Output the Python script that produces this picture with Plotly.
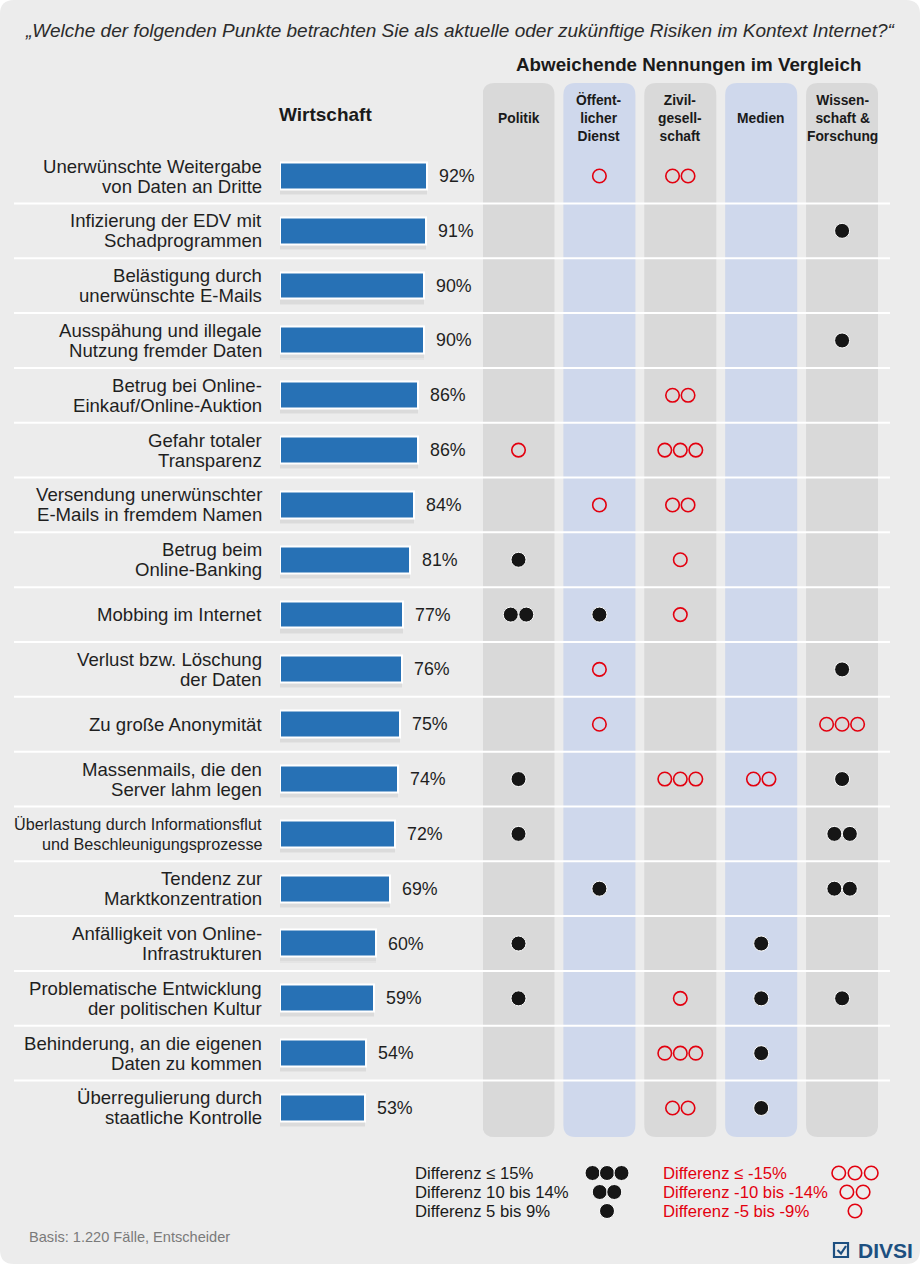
import plotly.graph_objects as go

W, H = 920, 1264

title = "„Welche der folgenden Punkte betrachten Sie als aktuelle oder zukünftige Risiken im Kontext Internet?“"

risks = [
    "Unerwünschte Weitergabe<br>von Daten an Dritte",
    "Infizierung der EDV mit<br>Schadprogrammen",
    "Belästigung durch<br>unerwünschte E-Mails",
    "Ausspähung und illegale<br>Nutzung fremder Daten",
    "Betrug bei Online-<br>Einkauf/Online-Auktion",
    "Gefahr totaler<br>Transparenz",
    "Versendung unerwünschter<br>E-Mails in fremdem Namen",
    "Betrug beim<br>Online-Banking",
    "Mobbing im Internet",
    "Verlust bzw. Löschung<br>der Daten",
    "Zu große Anonymität",
    "Massenmails, die den<br>Server lahm legen",
    "Überlastung durch Informationsflut<br>und Beschleunigungsprozesse",
    "Tendenz zur<br>Marktkonzentration",
    "Anfälligkeit von Online-<br>Infrastrukturen",
    "Problematische Entwicklung<br>der politischen Kultur",
    "Behinderung, an die eigenen<br>Daten zu kommen",
    "Überregulierung durch<br>staatliche Kontrolle",
]
wirtschaft = [92, 91, 90, 90, 86, 86, 84, 81, 77, 76, 75, 74, 72, 69, 60, 59, 54, 53]

groups = ["Politik", "Öffent-<br>licher<br>Dienst", "Zivil-<br>gesell-<br>schaft", "Medien",
          "Wissen-<br>schaft &<br>Forschung"]
# +n = n black dots (higher), -n = n red circles (lower)
politik = [0, 0, 0, 0, 0, -1, 0, 1, 2, 0, 0, 1, 1, 0, 1, 1, 0, 0]
oeffentlich = [-1, 0, 0, 0, 0, 0, -1, 0, 1, -1, -1, 0, 0, 1, 0, 0, 0, 0]
zivil = [-2, 0, 0, 0, -2, -3, -2, -1, -1, 0, 0, -3, 0, 0, 0, -1, -3, -2]
medien = [0, 0, 0, 0, 0, 0, 0, 0, 0, 0, 0, -2, 0, 0, 1, 1, 1, 1]
wissenschaft = [0, 1, 0, 1, 0, 0, 0, 0, 0, 1, -3, 1, 2, 2, 0, 1, 0, 0]

legend_black = ["Differenz ≤ 15%", "Differenz 10 bis 14%", "Differenz 5 bis 9%"]
legend_red = ["Differenz ≤ -15%", "Differenz -10 bis -14%", "Differenz -5 bis -9%"]
legend_counts = [3, 2, 1]

FONT = "Liberation Sans, Arial, sans-serif"
BLUE = "#2771b5"
RED = "#e3000f"


def px(x):
    return x / W


def py(y):
    return 1 - y / H


n = len(risks)
rows = list(range(n))
row_top, row_bot = 148.6, 1135.4
col_pitch = 80.9

fig = go.Figure()

# soft bar shadow + bars
fig.add_trace(go.Bar(x=wirtschaft, y=rows, orientation="h", width=0.6, offset=-0.26,
                     marker=dict(color="rgba(0,0,0,0.03)", line=dict(width=0)),
                     hoverinfo="skip", showlegend=False))
fig.add_trace(go.Bar(x=wirtschaft, y=rows, orientation="h", width=0.54, offset=-0.22,
                     marker=dict(color="rgba(0,0,0,0.04)", line=dict(width=0)),
                     hoverinfo="skip", showlegend=False))
fig.add_trace(go.Bar(x=wirtschaft, y=rows, orientation="h", width=0.49,
                     marker=dict(color=BLUE, line=dict(color="white", width=2)),
                     showlegend=False))

# dot matrix
cols = [politik, oeffentlich, zivil, medien, wissenschaft]
step = 15.5 / col_pitch
bx, by, rx, ry = [], [], [], []
for c, vals in enumerate(cols):
    for r, v in enumerate(vals):
        k = abs(v)
        for j in range(k):
            xx = c + (j - (k - 1) / 2) * step
            if v > 0:
                bx.append(xx); by.append(r)
            else:
                rx.append(xx); ry.append(r)
fig.add_trace(go.Scatter(x=bx, y=by, xaxis="x2", yaxis="y", mode="markers",
                         marker=dict(size=15, color="#161616", line=dict(color="white", width=1)),
                         showlegend=False, cliponaxis=False))
fig.add_trace(go.Scatter(x=rx, y=ry, xaxis="x2", yaxis="y", mode="markers",
                         marker=dict(size=13.5, symbol="circle-open", color=RED, line=dict(width=1.6)),
                         showlegend=False, cliponaxis=False))

# legend markers
lstep = 14.5 / 248
lbx, lby, lrx, lry = [], [], [], []
for r, k in enumerate(legend_counts):
    for j in range(k):
        off = (j - (k - 1) / 2) * lstep
        lbx.append(0 + off); lby.append(r)
        lrx.append(1 + off * 1.12); lry.append(r)
fig.add_trace(go.Scatter(x=lbx, y=lby, xaxis="x3", yaxis="y3", mode="markers",
                         marker=dict(size=15, color="#161616", line=dict(color="white", width=1)),
                         showlegend=False, cliponaxis=False))
fig.add_trace(go.Scatter(x=lrx, y=lry, xaxis="x3", yaxis="y3", mode="markers",
                         marker=dict(size=13.5, symbol="circle-open", color=RED, line=dict(width=1.6)),
                         showlegend=False, cliponaxis=False))

shapes = []
# page background
r0 = 14
shapes.append(dict(type="path", xref="paper", yref="paper", layer="below",
                   path=(f"M {px(r0)} 1 L {px(W - r0)} 1 Q 1 1 1 {py(r0)} "
                         f"L 1 {py(H - r0)} Q 1 0 {px(W - r0)} 0 L {px(r0)} 0 Q 0 0 0 {py(H - r0)} "
                         f"L 0 {py(r0)} Q 0 1 {px(r0)} 1 Z"),
                   fillcolor="#ececec", line=dict(width=0)))
# group columns
rx_u = 12 / col_pitch
ry_p = 12 / H
ytop, ybot = py(83), py(1137)
for c in range(len(groups)):
    x0, x1 = c - 36 / col_pitch, c + 36 / col_pitch
    color = "#cfd8ec" if c in (1, 3) else "#d9d9d9"
    path = (f"M {x0 + rx_u} {ytop} L {x1 - rx_u} {ytop} Q {x1} {ytop} {x1} {ytop - ry_p} "
            f"L {x1} {ybot + ry_p} Q {x1} {ybot} {x1 - rx_u} {ybot} L {x0 + rx_u} {ybot} "
            f"Q {x0} {ybot} {x0} {ybot + ry_p} L {x0} {ytop - ry_p} Q {x0} {ytop} {x0 + rx_u} {ytop} Z")
    shapes.append(dict(type="path", xref="x2", yref="paper", layer="below", path=path,
                       fillcolor=color, line=dict(width=0)))
# row separators
for r in range(n - 1):
    shapes.append(dict(type="line", xref="paper", yref="y", layer="below",
                       x0=px(14), x1=px(890), y0=r + 0.5, y1=r + 0.5,
                       line=dict(color="white", width=2)))
# DIVSI check box icon
shapes.append(dict(type="rect", xref="paper", yref="paper", x0=px(834), x1=px(848),
                   y0=py(1257), y1=py(1243), line=dict(color="#1d4f80", width=2.2)))
shapes.append(dict(type="path", xref="paper", yref="paper",
                   path=f"M {px(837.5)} {py(1250)} L {px(841)} {py(1253.5)} L {px(846)} {py(1246)}",
                   line=dict(color="#1d4f80", width=2.2)))

ann = []
ann.append(dict(text=f"<i>{title}</i>", x=px(460), y=py(30), xref="paper", yref="paper",
                xanchor="center", yanchor="middle", showarrow=False,
                font=dict(size=19, color="#2b2b2b", family=FONT)))
ann.append(dict(text="<b>Abweichende Nennungen im Vergleich</b>", x=px(688), y=py(64),
                xref="paper", yref="paper", xanchor="center", yanchor="middle", showarrow=False,
                font=dict(size=18.8, color="#1a1a1a", family=FONT)))
ann.append(dict(text="<b>Wirtschaft</b>", x=px(325), y=py(114), xref="paper", yref="paper",
                xanchor="center", yanchor="middle", showarrow=False,
                font=dict(size=19, color="#1a1a1a", family=FONT)))
for c, g in enumerate(groups):
    ann.append(dict(text=f"<b>{g}</b>", x=c, y=py(118), xref="x2", yref="paper",
                    showarrow=False, yanchor="middle",
                    font=dict(size=13.8, color="#1a1a1a", family=FONT)))
for r, (lab, v) in enumerate(zip(risks, wirtschaft)):
    size = 16.2 if r == 12 else 18.6
    lines = lab.split("<br>")
    for i, line in enumerate(lines):
        shift = (len(lines) - 1) / 2 * 20 - i * 20
        ann.append(dict(text=line, x=px(264), y=r, xref="paper", yref="y", xanchor="right",
                        yanchor="middle", yshift=shift, showarrow=False,
                        font=dict(size=size, color="#1f1f1f", family=FONT)))
    ann.append(dict(text=f"{v}%", x=v, y=r, xref="x", yref="y", xanchor="left", xshift=10,
                    yanchor="middle", showarrow=False,
                    font=dict(size=17.8, color="#1f1f1f", family=FONT)))
for r, (tb, tr) in enumerate(zip(legend_black, legend_red)):
    ann.append(dict(text=tb, x=px(413), y=r, xref="paper", yref="y3", xanchor="left",
                    yanchor="middle", showarrow=False,
                    font=dict(size=16.7, color="#1a1a1a", family=FONT)))
    ann.append(dict(text=tr, x=px(661), y=r, xref="paper", yref="y3", xanchor="left",
                    yanchor="middle", showarrow=False,
                    font=dict(size=16.7, color=RED, family=FONT)))
ann.append(dict(text="Basis: 1.220 Fälle, Entscheider", x=px(27), y=py(1237), xref="paper",
                yref="paper", xanchor="left", yanchor="middle", showarrow=False,
                font=dict(size=14.6, color="#7a7a7a", family=FONT)))
ann.append(dict(text="<b>DIVSI</b>", x=px(856), y=py(1250), xref="paper", yref="paper",
                xanchor="left", yanchor="middle", showarrow=False,
                font=dict(size=21, color="#1d4f80", family=FONT)))

hidden = dict(showgrid=False, zeroline=False, showticklabels=False, ticks="", showline=False)

fig.update_layout(
    width=W, height=H,
    margin=dict(l=0, r=0, t=0, b=0),
    paper_bgcolor="white", plot_bgcolor="rgba(0,0,0,0)",
    barmode="overlay", bargap=0,
    xaxis=dict(domain=[px(280), px(440)], range=[0, 100], anchor="y", **hidden),
    yaxis=dict(domain=[py(row_bot), py(row_top)], range=[n - 0.5, -0.5], anchor="x", **hidden),
    xaxis2=dict(domain=[px(483), px(878)],
                range=[-(518.5 - 483) / col_pitch, (878 - 518.5) / col_pitch],
                anchor="y", **hidden),
    xaxis3=dict(domain=[px(557.4), px(904.6)], range=[-0.2, 1.2], anchor="y3", **hidden),
    yaxis3=dict(domain=[py(1220.5), py(1163.5)], range=[2.5, -0.5], anchor="x3", **hidden),
    shapes=shapes,
    annotations=ann,
    hovermode="closest",
)

# page margin off so the figure sits flush in the window
fig.write_html("out.html", config={"displayModeBar": False},
               post_script="document.body.style.margin='0';")
